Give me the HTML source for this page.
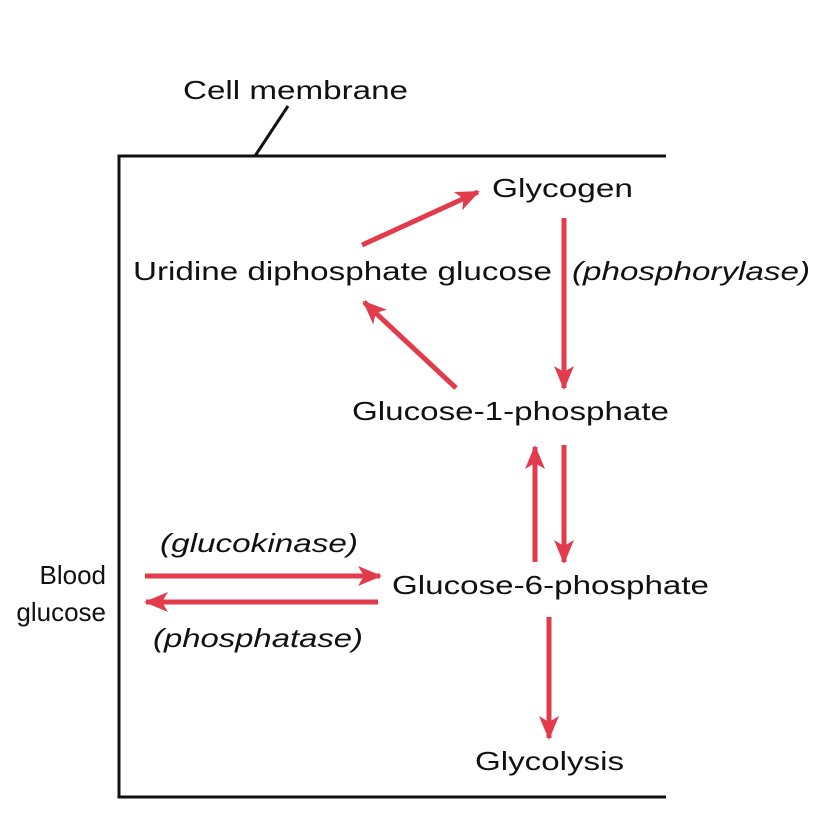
<!DOCTYPE html>
<html><head><meta charset="utf-8"><style>
html,body{margin:0;padding:0;background:#fff;}
svg{display:block;}
text{font-family:"Liberation Sans",Arial,sans-serif;font-size:26px;fill:#111;}
.i{font-style:italic;}
</style></head><body>
<svg width="816" height="836" viewBox="0 0 816 836" xmlns="http://www.w3.org/2000/svg">
<defs>
<marker id="ah" markerUnits="userSpaceOnUse" markerWidth="30" markerHeight="24" refX="22" refY="10" orient="auto" viewBox="0 0 30 20">
<path d="M0,0 L24,10 L0,20 L6,10 Z" fill="#e23b4c"/>
</marker>
</defs>
<g fill="none" stroke="#111" stroke-width="3">
<path d="M666,156 L119,156 L119,797 L666,797"/>
<path d="M255,156 L288,106"/>
</g>
<g stroke="#e23b4c" stroke-width="5" fill="none" marker-end="url(#ah)">
<line x1="362" y1="245" x2="478" y2="192"/>
<line x1="456" y1="388" x2="364" y2="302"/>
<line x1="564" y1="218" x2="564" y2="388"/>
<line x1="564" y1="445" x2="564" y2="562"/>
<line x1="535" y1="562" x2="535" y2="447"/>
<line x1="145" y1="576" x2="380" y2="576"/>
<line x1="378" y1="602" x2="146" y2="602"/>
<line x1="549" y1="617" x2="549" y2="738"/>
</g>
<text x="183" y="99" textLength="225" lengthAdjust="spacingAndGlyphs">Cell membrane</text>
<text x="492" y="197" textLength="141" lengthAdjust="spacingAndGlyphs">Glycogen</text>
<text x="133" y="280" textLength="419" lengthAdjust="spacingAndGlyphs">Uridine diphosphate glucose</text>
<text class="i" x="572" y="280" textLength="238" lengthAdjust="spacingAndGlyphs">(phosphorylase)</text>
<text x="352" y="420" textLength="317" lengthAdjust="spacingAndGlyphs">Glucose-1-phosphate</text>
<text class="i" x="160" y="552" textLength="198" lengthAdjust="spacingAndGlyphs">(glucokinase)</text>
<text x="392" y="594" textLength="317" lengthAdjust="spacingAndGlyphs">Glucose-6-phosphate</text>
<text x="106" y="584" text-anchor="end">Blood</text>
<text x="106" y="621" text-anchor="end">glucose</text>
<text class="i" x="153" y="647" textLength="210" lengthAdjust="spacingAndGlyphs">(phosphatase)</text>
<text x="475" y="770" textLength="149" lengthAdjust="spacingAndGlyphs">Glycolysis</text>
</svg>
</body></html>
